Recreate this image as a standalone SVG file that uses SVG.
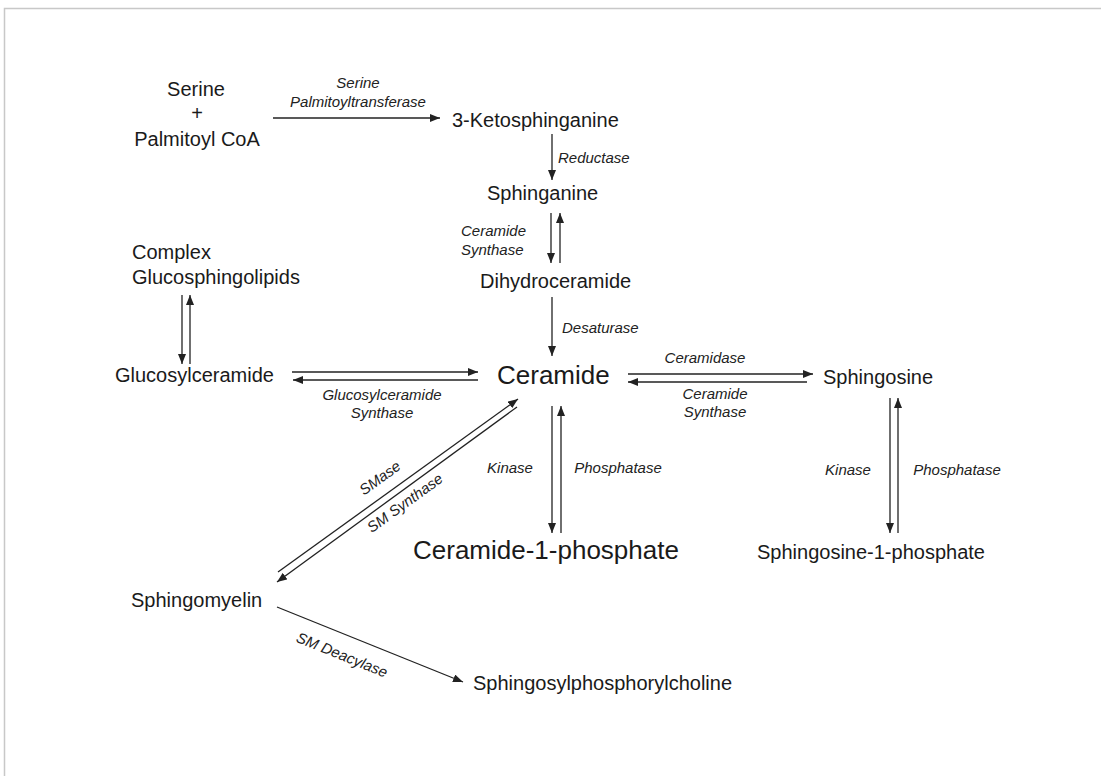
<svg xmlns="http://www.w3.org/2000/svg" width="1101" height="776" viewBox="0 0 1101 776">
  <style>
    .n { font-family: "Liberation Sans", Arial, sans-serif; font-size: 20px; fill: #1a1a1a; }
    .big { font-family: "Liberation Sans", Arial, sans-serif; font-size: 26px; fill: #1a1a1a; }
    .e { font-family: "Liberation Sans", Arial, sans-serif; font-size: 15px; font-style: italic; fill: #222; }
    .c { text-anchor: middle; }
    .ln { stroke: #222; stroke-width: 1.3; fill: none; marker-end: url(#ah); }
  </style>
  <defs>
    <marker id="ah" markerUnits="userSpaceOnUse" markerWidth="10" markerHeight="8" viewBox="0 0 10 8" refX="10" refY="4" orient="auto">
      <path d="M0,0 L10,4 L0,8 z" fill="#222"/>
    </marker>
  </defs>
  <rect x="0" y="0" width="1101" height="776" fill="#ffffff"/>
  <rect x="4.5" y="8.5" width="1200" height="1000" fill="none" stroke="#c8c8c8" stroke-width="1.5"/>

  <g id="connectors">
    <line class="ln" x1="273" y1="118" x2="440" y2="118"/>
    <line class="ln" x1="552" y1="134" x2="552" y2="180"/>
    <line class="ln" x1="551" y1="213" x2="551" y2="263"/>
    <line class="ln" x1="560" y1="263" x2="560" y2="213"/>
    <line class="ln" x1="552" y1="297" x2="552" y2="356"/>
    <line class="ln" x1="182" y1="295" x2="182" y2="364"/>
    <line class="ln" x1="190" y1="364" x2="190" y2="295"/>
    <line class="ln" x1="292" y1="372" x2="478" y2="372"/>
    <line class="ln" x1="478" y1="380" x2="293" y2="380"/>
    <line class="ln" x1="628" y1="374" x2="813" y2="374"/>
    <line class="ln" x1="807" y1="382" x2="628" y2="382"/>
    <line class="ln" x1="552" y1="406" x2="552" y2="533"/>
    <line class="ln" x1="561" y1="533" x2="561" y2="406"/>
    <line class="ln" x1="890" y1="398" x2="890" y2="533"/>
    <line class="ln" x1="898" y1="533" x2="898" y2="398"/>
    <line class="ln" x1="278" y1="572" x2="518" y2="399"/>
    <line class="ln" x1="517" y1="407" x2="277" y2="582"/>
    <line class="ln" x1="277" y1="607" x2="463" y2="682"/>
  </g>

  <g id="enzyme-labels">
    <text class="e c" x="358" y="88">Serine</text>
    <text class="e c" x="358" y="107">Palmitoyltransferase</text>
    <text class="e" x="558" y="163">Reductase</text>
    <text class="e" x="461" y="236">Ceramide</text>
    <text class="e" x="461" y="255">Synthase</text>
    <text class="e" x="562" y="333">Desaturase</text>
    <text class="e c" x="705" y="363">Ceramidase</text>
    <text class="e c" x="715" y="399">Ceramide</text>
    <text class="e c" x="715" y="417">Synthase</text>
    <text class="e c" x="382" y="400">Glucosylceramide</text>
    <text class="e c" x="382" y="418">Synthase</text>
    <text class="e c" x="510" y="473">Kinase</text>
    <text class="e c" x="618" y="473">Phosphatase</text>
    <text class="e c" x="848" y="475">Kinase</text>
    <text class="e c" x="957" y="475">Phosphatase</text>
    <text class="e c" transform="translate(380,478) rotate(-36)" x="0" y="5">SMase</text>
    <text class="e c" transform="translate(405,503) rotate(-36)" x="0" y="5">SM Synthase</text>
    <text class="e c" transform="translate(342,655) rotate(22)" x="0" y="5">SM Deacylase</text>
  </g>

  <g id="serine-palmitoyl"><text class="n c" x="196" y="96">Serine</text><text class="n c" x="197" y="120">+</text><text class="n c" x="197" y="146">Palmitoyl CoA</text></g>
  <g id="ketosphinganine"><text class="n" x="452" y="127">3-Ketosphinganine</text></g>
  <g id="sphinganine"><text class="n" x="487" y="200">Sphinganine</text></g>
  <g id="dihydroceramide"><text class="n" x="480" y="288">Dihydroceramide</text></g>
  <g id="complex-gsl"><text class="n" x="132" y="259">Complex</text><text class="n" x="132" y="284">Glucosphingolipids</text></g>
  <g id="glucosylceramide"><text class="n" x="115" y="382">Glucosylceramide</text></g>
  <g id="ceramide"><text class="big" x="497" y="384">Ceramide</text></g>
  <g id="sphingosine"><text class="n" x="823" y="384">Sphingosine</text></g>
  <g id="ceramide-1-phosphate"><text class="big" x="413" y="559">Ceramide-1-phosphate</text></g>
  <g id="sphingosine-1-phosphate"><text class="n" x="757" y="559">Sphingosine-1-phosphate</text></g>
  <g id="sphingomyelin"><text class="n" x="131" y="607">Sphingomyelin</text></g>
  <g id="sphingosylphosphorylcholine"><text class="n" x="473" y="690">Sphingosylphosphorylcholine</text></g>
</svg>
